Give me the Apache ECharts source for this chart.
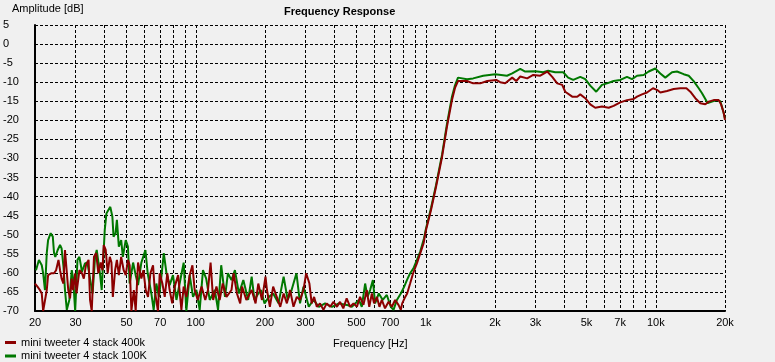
<!DOCTYPE html>
<html><head><meta charset="utf-8">
<script src="https://cdn.jsdelivr.net/npm/echarts@6/dist/echarts.min.js"></script>
<style>html,body{margin:0;padding:0;background:#f0f0f0}#c{width:775px;height:362px}</style>
</head><body><div id="c"></div>
<script>
const gridFreqs = [20,30,40,50,60,70,80,90,100,200,300,400,500,600,700,800,900,1000,2000,3000,4000,5000,6000,7000,8000,9000,10000,20000];
const tickFreqs = [20,30,50,70,100,200,300,500,700,1000,2000,3000,5000,7000,10000,20000];
const tickLabels = ['20','30','50','70','100','200','300','500','700','1k','2k','3k','5k','7k','10k','20k'];
const yMin = -70, yMax = 5, yStep = 5;

const seriesNames = ['mini tweeter 4 stack 400k', 'mini tweeter 4 stack 100K'];

const greenFreq = [
20.2,20.8,21.4,21.7,22.1,22.5,22.8,23.4,23.9,24.2,
24.5,25.1,25.7,26.1,26.6,27.0,27.5,28.2,28.9,29.3,
29.9,30.6,31.2,32.0,33.0,33.8,34.7,35.6,36.5,37.1,
38.4,39.0,40.2,40.9,41.7,42.5,43.4,43.9,44.8,45.4,
46.3,47.4,48.2,49.6,50.7,51.6,53.4,54.8,56.1,58.0,
60.4,61.8,64.1,65.6,67.4,69.2,71.0,72.6,74.6,77.0,
79.6,82.4,85.1,88.6,91.0,94.1,97.3,100.6,104,107.5,
111,115,121,125,129,134,138,143,148,154,
161,169,175,180,187,192,199,208,217,229,
241,251,261,274,284,294,310,325,343,365,
391,419,454,477,512,527,545,558,573,589,
602,625,650,677,705,724,749,779,806,828,
855,884,915,946,982,1002,1054,1108,1177,1236,
1300,1340,1381,1511,1607,1777,2004,2255,2376,2575,
2707,2992,3242,3405,3655,3960,4159,4377,4696,4937,
5190,5511,5836,6139,6557,7010,7496,7881,8291,8856,
9316,9953,10465,11002,11766,12370,13221,13907,14614,15373,
15891,16424,16814,17565,18466,19087,19734,20000];
const greenDb = [
-59.3,-56.6,-58.0,-60.1,-64.5,-54.8,-51.4,-49.6,-50.5,-54.8,
-55.8,-54.0,-52.7,-53.6,-58.4,-64.5,-69.7,-67.1,-59.3,-61.5,
-70,-56.6,-55.8,-59.7,-57.5,-57.3,-61.5,-65.4,-55.8,-54.0,
-60.6,-64.5,-48.8,-44.4,-43.5,-42.7,-45.3,-50.5,-49.6,-46.1,
-53.1,-51.4,-55.8,-51.4,-53.1,-62.8,-57.3,-60.6,-63.2,-57.3,
-54.0,-60.1,-65.4,-69.7,-62.8,-66.3,-60.6,-54.8,-60.1,-63.2,
-60.6,-67.1,-62.8,-57.3,-70,-60.6,-66.3,-64.5,-69.7,-59.3,
-61.5,-67.1,-64.5,-69.7,-58.0,-66.3,-60.1,-61.9,-59.3,-65.4,
-61.9,-67.1,-61.0,-67.1,-65.4,-64.5,-68,-66.3,-65.4,-68,
-61.0,-67.1,-64.5,-60.1,-68,-63.6,-68.9,-67.1,-68.9,-68,
-68.9,-68,-68.4,-68.9,-67.1,-68.9,-62.8,-66.3,-64.5,-61.9,
-68,-65.4,-67.1,-65.8,-68.9,-69.7,-67.1,-65.4,-63.6,-61.9,
-60.1,-58.8,-56.6,-54.4,-51.0,-48.4,-43.0,-37.0,-29.0,-21.0,
-13.8,-10.8,-8.8,-9.2,-9.0,-8.3,-7.9,-8.3,-7.7,-6.5,
-7.2,-7.1,-7.4,-7.0,-7.4,-7.4,-8.8,-9.4,-8.6,-9.2,
-10.9,-12.5,-10.7,-10.3,-9.7,-9.4,-8.6,-9.2,-8.3,-8.1,
-7.2,-6.4,-7.7,-8.8,-7.4,-7.2,-7.9,-8.3,-9.7,-11.6,
-12.9,-14.4,-15.5,-15.1,-14.7,-15.0,-18,-19.5];

const redFreq = [
20.0,20.5,21.0,21.4,21.7,22.1,22.5,22.8,23.6,24.2,
24.7,25.3,25.7,26.1,26.6,27.0,27.5,27.9,28.4,28.9,
29.3,29.9,30.3,31.2,32.0,32.6,33.3,34.2,34.7,35.3,
36.1,36.9,37.7,38.6,39.3,39.8,40.6,41.4,42.3,43.0,
43.6,44.6,45.4,46.3,47.4,48.6,49.6,50.7,51.6,52.5,
53.8,54.8,56.1,58.0,59.2,60.6,62.0,63.5,65.2,66.3,
68.5,69.7,71.6,73.3,75.2,77.0,79.0,81.0,83.8,86.6,
88.6,91.0,94.1,96.7,98.9,102,106,110,113,116,
119,123,127,131,136,143,146,151,156,159,
166,175,182,187,194,201,204,210,217,225,
233,241,249,257,266,275,284,294,302,306,
312,319,327,336,347,359,371,384,397,411,
424,438,453,469,485,502,518,536,554,568,
583,596,613,629,644,665,689,712,736,761,
779,790,814,830,855,881,915,946,978,1002,
1054,1108,1177,1236,1300,1340,1381,1511,1607,1725,
1850,2024,2107,2215,2376,2473,2575,2761,2933,3146,
3374,3547,3729,3920,4040,4333,4556,4696,4937,5190,
5456,5836,6240,6557,7010,7496,8011,8291,8712,9159,
9726,10124,10465,11191,11960,12786,13588,14133,14858,15622,
16424,16992,17855,18782,19221,19734,20000];
const redDb = [
-62.8,-63.6,-64.5,-65.4,-70,-70,-64.5,-60.6,-60.1,-60.1,
-59.3,-56.6,-59.3,-61.5,-62.8,-54.0,-53.6,-64.5,-66.7,-61.5,
-64.5,-60.1,-65.4,-59.3,-60.1,-61.5,-58.0,-56.6,-67.1,-70,
-55.8,-54.8,-60.1,-57.3,-59.3,-52.7,-54.0,-60.1,-55.8,-57.3,
-66.3,-59.3,-56.6,-60.6,-55.8,-59.3,-60.6,-56.6,-58.0,-70,
-64.5,-70,-57.3,-61.5,-59.3,-64.5,-66.3,-60.1,-58.0,-64.5,
-70,-60.1,-62.8,-66.3,-60.1,-64.5,-68,-63.6,-60.6,-69.7,
-63.6,-66.3,-60.6,-58.0,-64.5,-67.1,-63.6,-67.1,-64.5,-57.3,
-67.1,-63.6,-67.1,-62.8,-66.3,-64.5,-60.1,-65.4,-68.0,-63.6,
-67.1,-64.5,-68,-62.8,-67.1,-61.0,-64.5,-68.9,-63.6,-66.3,
-68.9,-65.4,-68,-64.5,-68.9,-66.3,-67.1,-64.5,-60.1,-59.7,
-62.8,-68,-66.3,-68.9,-68,-69.7,-68,-68.9,-67.6,-68.9,
-67.6,-69.3,-66.7,-68.9,-68,-68.9,-66.3,-68.4,-64.5,-68.9,
-65.4,-68,-66.3,-68.9,-67.1,-69.3,-67.6,-68.9,-67.1,-68.4,
-69.7,-68,-66.3,-65.4,-62.8,-60.1,-57.5,-54.9,-52.3,-48.8,
-43.5,-37.5,-29.6,-21.7,-14.7,-11.5,-9.7,-9.7,-10.3,-10.3,
-9.7,-9.4,-10.0,-10.3,-8.8,-9.7,-8.5,-9.0,-8.1,-8.3,
-7.2,-8.6,-10.3,-10.7,-12.5,-13.8,-13.8,-13.2,-14.2,-15.8,
-16.7,-16.4,-16.7,-16.2,-15.3,-14.7,-14.4,-13.8,-13.2,-12.7,
-11.6,-12.0,-12.7,-12.3,-11.8,-11.6,-11.6,-12.5,-14.2,-15.5,
-15.8,-15.1,-14.7,-14.7,-15.8,-18,-19.9];

const FONT = 'Liberation Sans';
const lg = Math.log10;
const toPts = (fs, ds) => fs.map((f, i) => [lg(f), ds[i]]);

const chart = echarts.init(document.getElementById('c'), null, {renderer: 'canvas'});
chart.setOption({
  animation: false,
  backgroundColor: '#f0f0f0',
  textStyle: {fontFamily: FONT},
  title: [
    {text: 'Frequency Response', left: 284, top: 6, padding: 0, textStyle: {fontSize: 11, fontWeight: 'bold', color: '#000', fontFamily: FONT}},
    {text: 'Amplitude [dB]', left: 12, top: 3, padding: 0, textStyle: {fontSize: 11, fontWeight: 'normal', color: '#000', fontFamily: FONT}},
    {text: 'Frequency [Hz]', left: 333, top: 338, padding: 0, textStyle: {fontSize: 11, fontWeight: 'normal', color: '#000', fontFamily: FONT}}
  ],
  legend: {
    orient: 'vertical', left: 5, top: 336.5, height: 40, width: 200, padding: 0,
    itemWidth: 11, itemHeight: 3, itemGap: 1.5, icon: 'rect',
    data: seriesNames,
    textStyle: {fontSize: 11, color: '#000', fontFamily: FONT, lineHeight: 12}
  },
  grid: {left: 35, right: 50, top: 25, bottom: 51, containLabel: false},
  xAxis: {
    type: 'value', min: lg(20), max: lg(20000),
    axisLine: {show: true, onZero: false, lineStyle: {color: '#000', width: 2}},
    axisTick: {show: false, customValues: gridFreqs.map(lg)},
    axisLabel: {
      customValues: tickFreqs.map(lg), margin: 6, fontSize: 11, color: '#000', fontFamily: FONT,
      formatter: v => { const i = tickFreqs.findIndex(f => Math.abs(lg(f) - v) < 1e-6); return i >= 0 ? tickLabels[i] : ''; }
    },
    splitLine: {show: true, lineStyle: {color: '#000', width: 1, type: [3, 2]}}
  },
  yAxis: {
    type: 'value', min: yMin, max: yMax, interval: yStep,
    axisLine: {show: true, lineStyle: {color: '#000', width: 2}},
    axisTick: {show: false},
    axisLabel: {align: 'left', margin: 32, fontSize: 11, color: '#000', fontFamily: FONT},
    splitLine: {show: true, lineStyle: {color: '#000', width: 1, type: [3, 2]}}
  },
  series: [
    {name: seriesNames[1], type: 'line', data: toPts(greenFreq, greenDb), showSymbol: false, symbol: 'none',
     lineStyle: {color: '#007800', width: 2}, itemStyle: {color: '#007800'}, clip: true},
    {name: seriesNames[0], type: 'line', data: toPts(redFreq, redDb), showSymbol: false, symbol: 'none',
     lineStyle: {color: '#8b0000', width: 2}, itemStyle: {color: '#8b0000'}, clip: true}
  ]
});
</script></body></html>
